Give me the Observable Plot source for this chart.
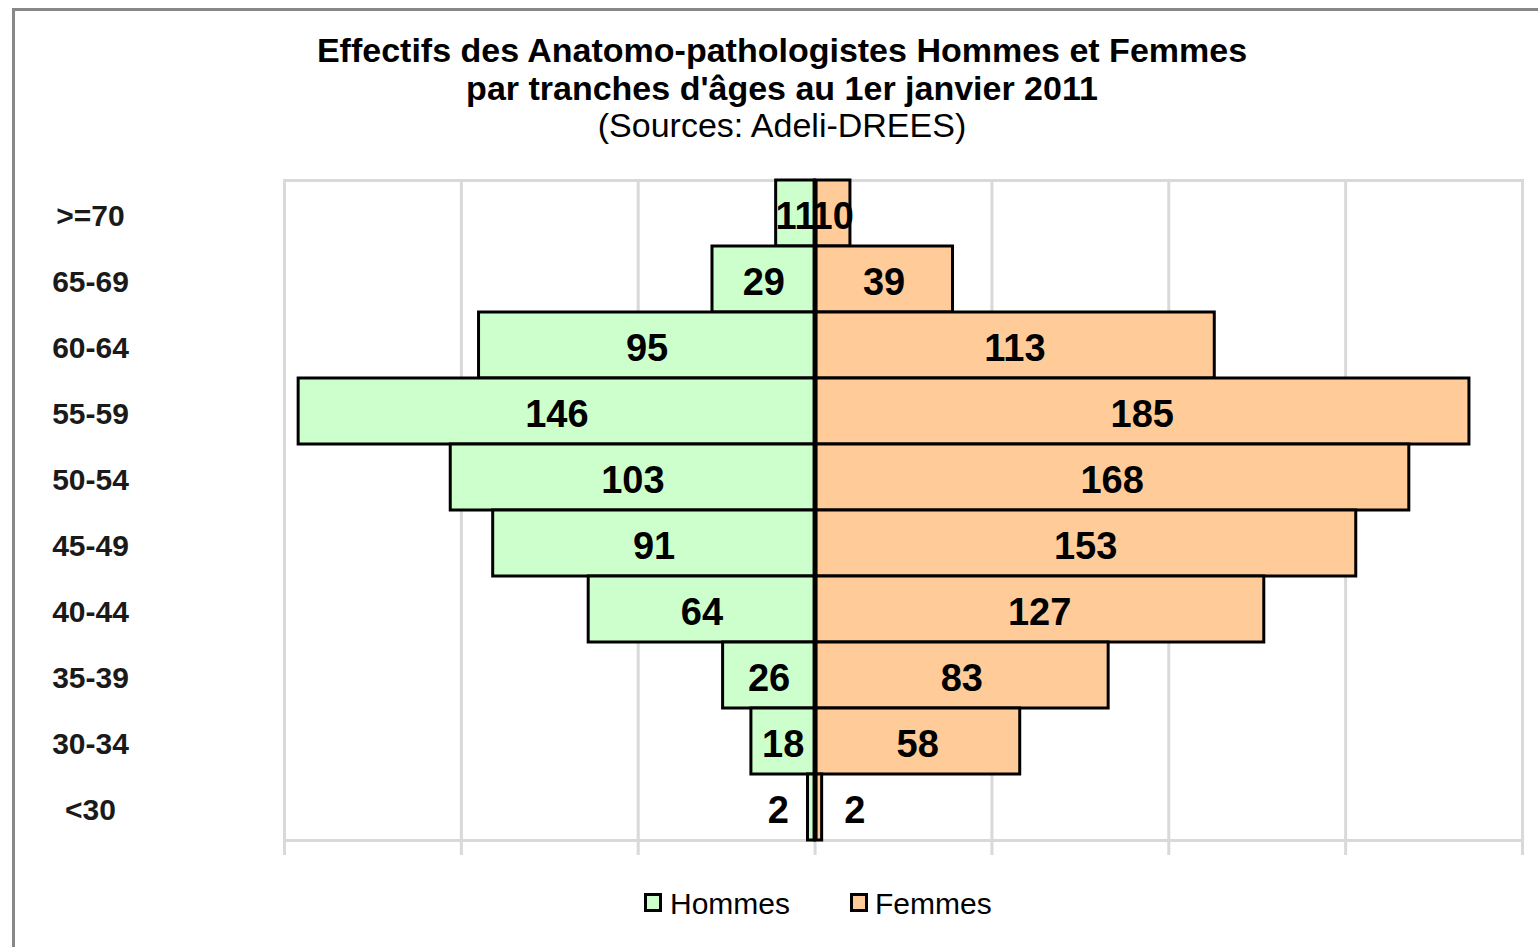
<!DOCTYPE html>
<html>
<head>
<meta charset="utf-8">
<script src="https://cdn.jsdelivr.net/npm/d3@7"></script>
<script src="https://cdn.jsdelivr.net/npm/@observablehq/plot@0.6"></script>
<style>
  html, body { margin: 0; padding: 0; background: #fff; }
  #wrap { position: relative; width: 1538px; height: 947px; overflow: hidden; font-family: "Liberation Sans", Arial, sans-serif; }
  #border { position: absolute; left: 12px; top: 8px; width: 1530px; height: 950px; border-top: 3px solid #888; border-left: 3px solid #888; }
  .t { position: absolute; left: 0; width: 1564px; text-align: center; font-size: 34px; line-height: 34px; color: #000; white-space: nowrap; }
  .b { font-weight: bold; }
  #chart { position: absolute; left: 0; top: 150px; }
  .leg { position: absolute; top: 883px; font-size: 30px; line-height: 30px; color: #000; white-space: nowrap; }
  .sw { position: absolute; top: 10px; width: 18px; height: 19px; box-sizing: border-box; border: 3px solid #000; }
  .lt { position: absolute; top: 6px; }
</style>
</head>
<body>
<div id="wrap">
  <div id="border"></div>
  <div class="t b" style="top:33px">Effectifs des Anatomo-pathologistes Hommes et Femmes</div>
  <div class="t b" style="top:71px">par tranches d'âges au 1er janvier 2011</div>
  <div class="t" style="top:108px">(Sources: Adeli-DREES)</div>
  <div id="chart"></div>
  <div class="leg" style="left:644px"><div class="sw" style="left:0;background:#CCFFCC"></div><span class="lt" style="left:26px">Hommes</span></div>
  <div class="leg" style="left:850px"><div class="sw" style="left:0;background:#FFCC99"></div><span class="lt" style="left:25px">Femmes</span></div>
</div>
<script>
const categories = [">=70", "65-69", "60-64", "55-59", "50-54", "45-49", "40-44", "35-39", "30-34", "<30"];
const hommes = [11, 29, 95, 146, 103, 91, 64, 26, 18, 2];
const femmes = [10, 39, 113, 185, 168, 153, 127, 83, 58, 2];
const xTicks = [-150, -100, -50, 0, 50, 100, 150, 200];
const seriesNames = ["Hommes", "Femmes"];
const seriesColors = ["#CCFFCC", "#FFCC99"];

const rows = [];
categories.forEach((c, i) => {
  rows.push({age: c, sexe: seriesNames[0], value: hommes[i], x: -hommes[i]});
  rows.push({age: c, sexe: seriesNames[1], value: femmes[i], x: femmes[i]});
});
const big = rows.filter(d => d.value >= 5);
const smallH = rows.filter(d => d.value < 5 && d.sexe === "Hommes");
const smallF = rows.filter(d => d.value < 5 && d.sexe === "Femmes");

const chart = Plot.plot({
  width: 1538,
  height: 710,
  marginLeft: 284,
  marginRight: 16,
  marginTop: 30,
  marginBottom: 20,
  style: {fontFamily: "'Liberation Sans', Arial, sans-serif", background: "transparent", color: "#000"},
  x: {domain: [-150, 200], axis: null, label: null},
  y: {type: "band", domain: categories, padding: 0, axis: null, label: null},
  color: {domain: seriesNames, range: seriesColors},
  marks: [
    Plot.ruleX(xTicks, {stroke: "#d9d9d9", strokeWidth: 3}),
    Plot.frame({stroke: "#d9d9d9", strokeWidth: 3}),
    Plot.axisX(xTicks, {ticks: xTicks, tickSize: 15, tickFormat: () => "", label: null, stroke: "#d9d9d9", strokeWidth: 3}),
    Plot.axisY({tickSize: 0, tickPadding: 194, textAnchor: "middle", label: null, fontSize: 30, fontWeight: "bold", fill: "#1a1a1a", dy: 3}),
    Plot.barX(rows, {y: "age", x1: 0, x2: "x", fill: "sexe", stroke: "#000", strokeWidth: 3}),
    Plot.ruleX([0], {stroke: "#000", strokeWidth: 5}),
    Plot.text(big, {y: "age", x: d => d.x / 2, text: d => String(d.value), fontSize: 38, fontWeight: "bold", fill: "#000", dy: 3}),
    Plot.text(smallH, {y: "age", x: "x", text: d => String(d.value), fontSize: 38, fontWeight: "bold", fill: "#000", textAnchor: "end", dx: -19, dy: 3}),
    Plot.text(smallF, {y: "age", x: "x", text: d => String(d.value), fontSize: 38, fontWeight: "bold", fill: "#000", textAnchor: "start", dx: 22, dy: 3})
  ]
});
document.getElementById("chart").appendChild(chart);
</script>
</body>
</html>
